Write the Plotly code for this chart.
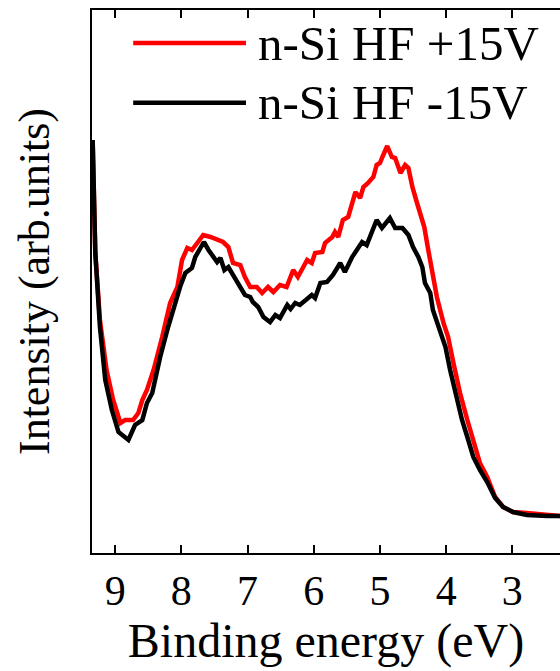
import plotly.graph_objects as go

# Binding energy (eV) and intensity (arb. units)
energy_pos = [9.34, 9.30, 9.23, 9.13, 9.03, 8.92, 8.85, 8.73, 8.65, 8.59, 8.52, 8.42, 8.29, 8.17,
              8.06, 7.99, 7.91, 7.84, 7.76, 7.67, 7.56, 7.46, 7.37, 7.29, 7.22, 7.11, 7.04, 6.96,
              6.86, 6.78, 6.69, 6.61, 6.51, 6.41, 6.31, 6.24, 6.10, 6.03, 5.98, 5.87, 5.83, 5.72,
              5.68, 5.63, 5.56, 5.48, 5.37, 5.30, 5.25, 5.18, 5.10, 5.05, 5.00, 4.95, 4.89, 4.82,
              4.77, 4.69, 4.62, 4.57, 4.51, 4.44, 4.36, 4.33, 4.27, 4.20, 4.14, 4.04, 3.97, 3.89,
              3.79, 3.68, 3.59, 3.49, 3.38, 3.26, 3.14, 2.99, 2.78, 2.47, 2.28]
intensity_pos = [413, 300, 233, 183, 153, 130, 133, 133, 140, 153, 163, 183, 216, 250,
                 266, 293, 305, 303, 310, 318, 316, 313, 311, 306, 290, 288, 276, 266,
                 266, 260, 266, 261, 268, 266, 283, 276, 293, 290, 300, 301, 310, 316,
                 321, 316, 333, 336, 361, 355, 366, 370, 376, 388, 390, 398, 407, 396,
                 395, 380, 388, 385, 366, 350, 330, 326, 303, 280, 256, 230, 216, 190,
                 160, 133, 113, 90, 76, 56, 46, 41, 40, 38, 37]

energy_neg = [9.34, 9.30, 9.23, 9.15, 9.05, 8.95, 8.80, 8.70, 8.59, 8.52, 8.44, 8.32, 8.20, 8.09,
              8.02, 7.94, 7.84, 7.79, 7.72, 7.66, 7.59, 7.52, 7.46, 7.41, 7.35, 7.29, 7.22, 7.11,
              7.04, 6.96, 6.92, 6.84, 6.76, 6.66, 6.58, 6.51, 6.40, 6.35, 6.28, 6.21, 6.10, 6.03,
              5.98, 5.90, 5.80, 5.71, 5.60, 5.53, 5.42, 5.33, 5.27, 5.20, 5.12, 5.05, 4.97, 4.89,
              4.85, 4.77, 4.66, 4.57, 4.50, 4.42, 4.36, 4.32, 4.24, 4.20, 4.12, 4.01, 3.94, 3.86,
              3.76, 3.68, 3.59, 3.49, 3.38, 3.26, 3.14, 2.99, 2.78, 2.47, 2.28]
intensity_neg = [413, 300, 226, 173, 143, 121, 113, 128, 133, 150, 160, 196, 226, 251,
                 266, 280, 285, 296, 303, 311, 303, 296, 291, 295, 283, 286, 278, 266,
                 258, 256, 251, 246, 236, 231, 238, 235, 248, 244, 250, 248, 255, 258,
                 255, 270, 271, 278, 290, 281, 296, 306, 311, 308, 323, 333, 325, 331,
                 335, 325, 325, 318, 306, 296, 286, 270, 260, 243, 226, 206, 183, 160,
                 133, 116, 96, 83, 71, 55, 46, 41, 38, 37, 37]

series_names = ["n-Si HF +15V", "n-Si HF -15V"]
series_colors = ["#ff0000", "#000000"]
legend_rows_y = [0.939, 0.829]

FONT = "Liberation Serif"

fig = go.Figure()
for name, xs, ys, col in zip(series_names, [energy_pos, energy_neg],
                             [intensity_pos, intensity_neg], series_colors):
    fig.add_trace(go.Scatter(x=xs, y=ys, mode="lines", name=name,
                             line=dict(color=col, width=4.5)))

# legend drawn as line samples + text labels in paper coordinates
for name, col, ly in zip(series_names, series_colors, legend_rows_y):
    fig.add_shape(type="line", xref="paper", yref="paper", x0=0.088, x1=0.329, y0=ly, y1=ly,
                  line=dict(color=col, width=4.5))
    fig.add_annotation(x=0.35, y=ly, xref="paper", yref="paper", xanchor="left", yanchor="middle",
                       text=name, showarrow=False, font=dict(family=FONT, size=49, color="black"))

fig.update_layout(
    width=560, height=671,
    margin=dict(l=92, r=0, t=10, b=118),
    paper_bgcolor="white", plot_bgcolor="white",
    showlegend=False,
    xaxis=dict(range=[9.35, 2.28], tickmode="linear", tick0=0, dtick=1,
               ticks="inside", ticklen=8, tickwidth=2, tickcolor="black",
               showline=True, linewidth=2, linecolor="black", mirror="ticks",
               showgrid=False, zeroline=False,
               tickfont=dict(family=FONT, size=42, color="black"),
               title=dict(text="Binding energy (eV)",
                          font=dict(family=FONT, size=48, color="black"), standoff=4)),
    yaxis=dict(range=[0, 543], showticklabels=False, ticks="",
               showline=True, linewidth=2, linecolor="black", mirror=False,
               showgrid=False, zeroline=False,
               title=dict(text="Intensity (arb.units)",
                          font=dict(family=FONT, size=44, color="black"), standoff=27)),
)

fig.write_html("out.html")
